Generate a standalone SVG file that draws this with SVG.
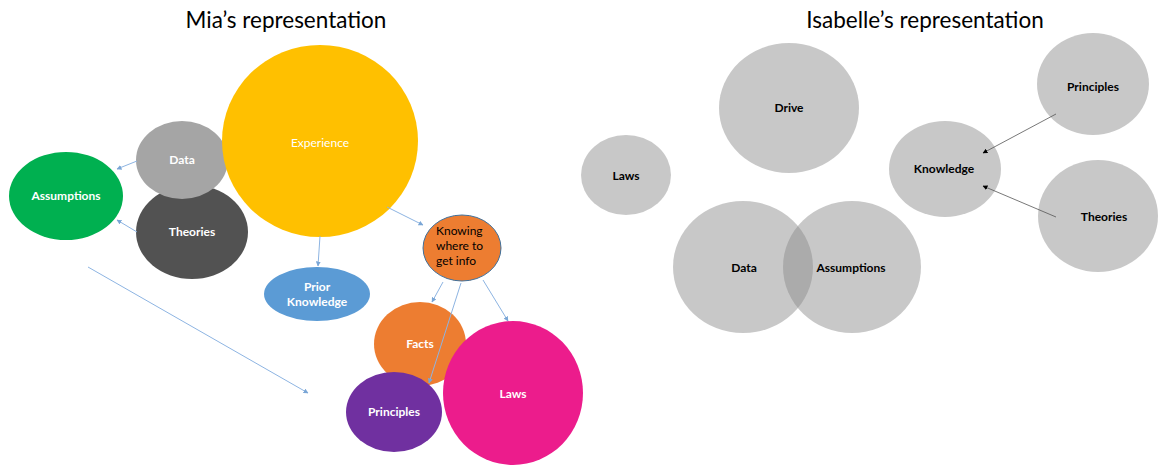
<svg xmlns="http://www.w3.org/2000/svg" width="1159" height="466" viewBox="0 0 1159 466">
<defs>
<marker id="ab" viewBox="0 0 10 10" refX="9" refY="5" markerWidth="5" markerHeight="5" orient="auto" markerUnits="userSpaceOnUse"><path d="M0,0 L10,5 L0,10 z" fill="#7AA6D6"/></marker>
<marker id="ak" viewBox="0 0 10 10" refX="9" refY="5" markerWidth="5" markerHeight="5" orient="auto" markerUnits="userSpaceOnUse"><path d="M0,0 L10,5 L0,10 z" fill="#000"/></marker>
</defs>
<style>
.t{font-family:Lato,"Open Sans","Liberation Sans",sans-serif;font-size:12px;text-anchor:middle}
.b{font-weight:bold}
.w{fill:#fff}
.k{fill:#000}
.title{font-family:Lato,"Open Sans","Liberation Sans",sans-serif;font-size:22.5px;text-anchor:middle;fill:#000}
.g{fill:#8B8B8B;fill-opacity:0.47}
.cb{stroke:#8DB4E2;stroke-width:1;fill:none;marker-end:url(#ab)}
.ck{stroke:#555;stroke-width:0.8;fill:none;marker-end:url(#ak)}
</style>
<rect width="1159" height="466" fill="#fff"/>
<text class="title" x="286" y="28">Mia’s representation</text>
<text class="title" x="925" y="28">Isabelle’s representation</text>

<g id="mia-theories"><ellipse cx="192" cy="232" rx="56" ry="47" fill="#525252"/><text class="t b w" x="192" y="236">Theories</text></g>
<g id="mia-data"><ellipse cx="182" cy="160" rx="46" ry="39" fill="#A5A5A5"/><text class="t b w" x="182" y="164">Data</text></g>
<g id="mia-experience"><ellipse cx="320" cy="141" rx="98" ry="96" fill="#FFC000"/><text class="t w" x="320" y="147">Experience</text></g>
<g id="mia-assumptions"><ellipse cx="66" cy="196" rx="57" ry="44" fill="#00B050"/><text class="t b w" x="66" y="200">Assumptions</text></g>
<g id="mia-prior"><ellipse cx="317" cy="294" rx="53" ry="27" fill="#5B9BD5"/><text class="t b w" x="317" y="291">Prior</text><text class="t b w" x="317" y="306">Knowledge</text></g>
<g id="mia-knowing"><ellipse cx="462" cy="248" rx="39" ry="33" fill="#ED7D31" stroke="#41719C" stroke-width="1"/><text class="t k" style="text-anchor:start" x="436" y="235">Knowing</text><text class="t k" style="text-anchor:start" x="436" y="250">where to</text><text class="t k" style="text-anchor:start" x="436" y="265">get info</text></g>
<g id="mia-facts"><ellipse cx="420" cy="344" rx="46" ry="42" fill="#ED7D31"/><text class="t b w" x="420" y="348">Facts</text></g>
<g id="mia-principles"><ellipse cx="394" cy="412" rx="48" ry="40" fill="#7030A0"/><text class="t b w" x="394" y="416">Principles</text></g>
<g id="mia-laws"><ellipse cx="513" cy="393" rx="70" ry="72" fill="#EC1C8C"/><text class="t b w" x="513" y="398">Laws</text></g>

<g id="isa-drive"><ellipse cx="789" cy="108" rx="70" ry="65" class="g"/><text class="t b k" x="789" y="112">Drive</text></g>
<g id="isa-laws"><ellipse cx="626" cy="175" rx="45" ry="40" class="g"/><text class="t b k" x="626" y="180">Laws</text></g>
<g id="isa-data"><ellipse cx="743" cy="267" rx="70" ry="66" class="g"/><text class="t b k" x="744" y="272">Data</text></g>
<g id="isa-assumptions"><ellipse cx="852" cy="267" rx="69" ry="66" class="g"/><text class="t b k" x="851" y="272">Assumptions</text></g>
<g id="isa-knowledge"><ellipse cx="945" cy="169" rx="56" ry="48" class="g"/><text class="t b k" x="944" y="173">Knowledge</text></g>
<g id="isa-principles"><ellipse cx="1093" cy="84" rx="56" ry="51" class="g"/><text class="t b k" x="1093" y="91">Principles</text></g>
<g id="isa-theories"><ellipse cx="1098" cy="216" rx="60" ry="56" class="g"/><text class="t b k" x="1104" y="221">Theories</text></g>

<g id="connectors">
<line class="cb" x1="137" y1="161" x2="117" y2="169"/>
<line class="cb" x1="137" y1="232" x2="117" y2="220"/>
<line class="cb" x1="320" y1="236" x2="318" y2="266"/>
<line class="cb" x1="387" y1="207" x2="423" y2="225"/>
<line class="cb" x1="443" y1="282" x2="432" y2="302"/>
<line class="cb" x1="461" y1="283" x2="429" y2="383"/>
<line class="cb" x1="483" y1="280" x2="508" y2="321"/>
<line class="cb" x1="88" y1="267" x2="308" y2="393"/>
<line class="ck" x1="1056" y1="114" x2="983" y2="153"/>
<line class="ck" x1="1056" y1="217" x2="983" y2="186"/>
</g>
</svg>
